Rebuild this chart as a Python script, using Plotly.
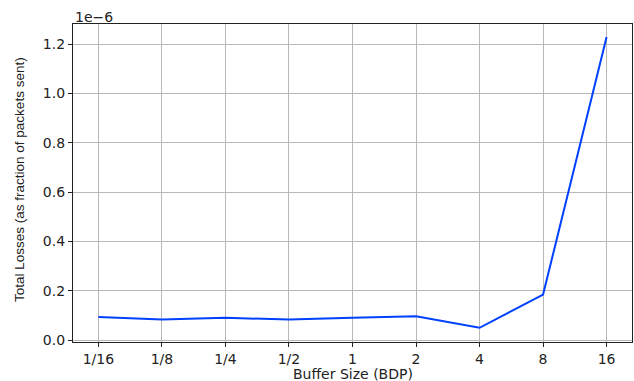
import plotly.graph_objects as go

categories = ["1/16", "1/8", "1/4", "1/2", "1", "2", "4", "8", "16"]
losses = [0.0945e-6, 0.084e-6, 0.091e-6, 0.084e-6, 0.091e-6, 0.0975e-6, 0.0505e-6, 0.185e-6, 1.228e-6]
y_tick_vals = [0.0, 0.2e-6, 0.4e-6, 0.6e-6, 0.8e-6, 1.0e-6, 1.2e-6]
y_tick_text = ["0.0", "0.2", "0.4", "0.6", "0.8", "1.0", "1.2"]

x_idx = list(range(len(categories)))

fig = go.Figure()
fig.add_trace(go.Scatter(
    x=x_idx, y=losses, mode="lines",
    line=dict(color="#0040ff", width=2),
    showlegend=False,
))

fig.update_layout(
    width=634, height=381,
    margin=dict(l=73, r=2, t=24, b=39),
    paper_bgcolor="white", plot_bgcolor="white",
    font=dict(family="DejaVu Sans", size=14, color="#222222"),
    xaxis=dict(
        range=[-0.4, 8.4],
        tickmode="array", tickvals=x_idx, ticktext=categories,
        showgrid=True, gridcolor="#b8b8b8", gridwidth=1,
        showline=True, linecolor="#222222", linewidth=1.2, mirror=True,
        ticks="outside", ticklen=4, tickcolor="#222222",
        tickfont=dict(size=14),
        zeroline=False, automargin=False,
    ),
    yaxis=dict(
        range=[-0.007e-6, 1.281e-6],
        tickmode="array", tickvals=y_tick_vals, ticktext=y_tick_text,
        showgrid=True, gridcolor="#b8b8b8", gridwidth=1,
        showline=True, linecolor="#222222", linewidth=1.2, mirror=True,
        ticks="outside", ticklen=4, tickcolor="#222222",
        tickfont=dict(size=14),
        zeroline=False, automargin=False,
    ),
    annotations=[
        dict(
            text="1e\u22126", xref="paper", yref="paper", x=0, y=1,
            xanchor="left", yanchor="bottom", showarrow=False,
            font=dict(size=14, family="DejaVu Sans", color="#222222"), yshift=-3,
        ),
        dict(
            text="Buffer Size (BDP)", xref="paper", yref="paper", x=0.5, y=0,
            xanchor="center", yanchor="top", showarrow=False,
            font=dict(size=14, family="DejaVu Sans", color="#222222"), yshift=-22,
        ),
        dict(
            text="Total Losses (as fraction of packets sent)", xref="paper", yref="paper",
            x=0, y=0.118, xanchor="center", yanchor="bottom", textangle=-90, showarrow=False,
            font=dict(size=13.5, family="Liberation Sans Narrow, Liberation Sans", color="#222222"),
            xshift=-53,
        ),
    ],
)

fig.write_html("out.html", config={"displayModeBar": False},
               post_script="document.body.style.margin='0';")
